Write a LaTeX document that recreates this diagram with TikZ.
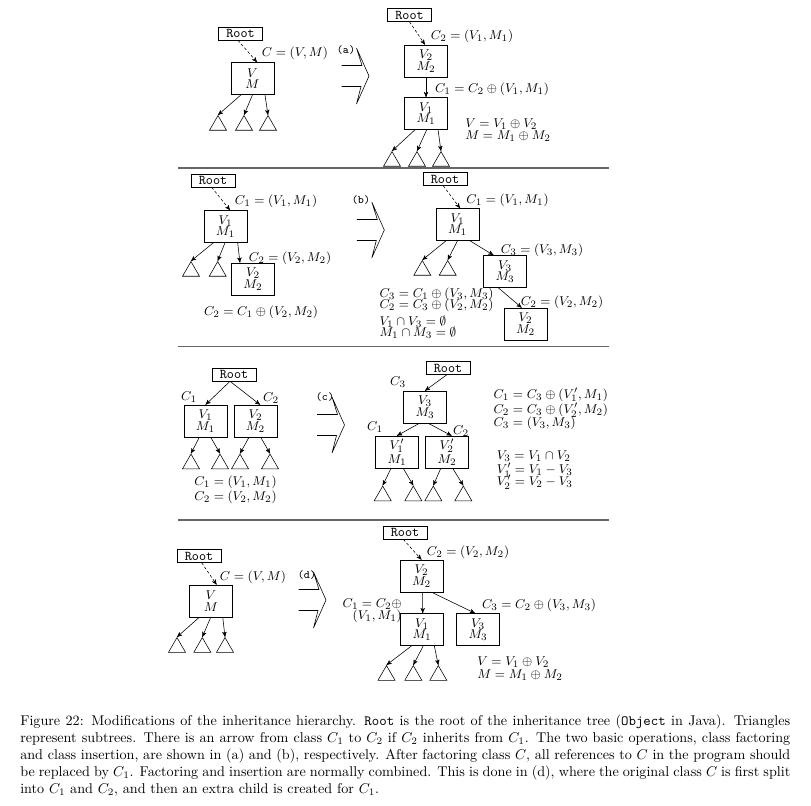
\documentclass[tikz,border=0pt]{standalone}
\usepackage{amsmath}
\usepackage{tikz}
\usetikzlibrary{arrows, shapes.geometric, positioning}
\tikzset{
-, % plain lines unless asked
>=stealth', % small arrow heads
class/.style={draw, thin, minimum width=30.4pt, minimum height=22.6pt, inner sep=0pt, align=center, font=\fontsize{9.5}{8}\selectfont}, % a class box V/M
root/.style={draw, thin, minimum width=31pt, minimum height=9.2pt, inner sep=0pt, font=\fontsize{9.5}{10}\selectfont\ttfamily}, % the Root box
subtree/.style={draw, thin, regular polygon, regular polygon sides=3, minimum size=13.85pt, inner sep=0pt, anchor=north}, % a subtree triangle
lbl/.style={inner sep=0pt, font=\fontsize{9.5}{11}\selectfont}, % math labels
tag/.style={inner sep=0pt, font=\footnotesize\ttfamily}, % (a), (b), ...
rootlink/.style={->, thin, dash pattern=on 2pt off 1.5pt}, % dashed link from Root
inh/.style={->, thin}, % inheritance arrow
sep/.style={line width=0.9pt, black!60}, % separator between rows
pics/fatarrow/.style={code={
  \draw[thin] (-27.5,-10.5) -- (-7,-10.5) -- (-12.5,-28) -- (0,0) -- (-12.5,28) -- (-8,10.5) -- (-27.5,10.5);
}}, % the big "becomes" arrow
}
\begin{document}
\begin{tikzpicture}[x=0.706pt, y=-0.706pt]
\useasboundingbox (0,0) rectangle (811,805);

% ---- (a) class factoring
\node[root] (aRoot) at (240.5,33.5) {Root};
\node[class] (aC) at (252.5,78.5) {$V$\\$M$};
\node[lbl] (aLbl) at (295,53) {$C=(V,M)$};
\node[subtree] (at1) at (218,115) {};
\node[subtree] (at2) at (244,115) {};
\node[subtree] (at3) at (268,115) {};
\draw[rootlink] ([xshift=-1.8pt]aRoot.south) -- ([xshift=3.2pt]aC.north);
\draw ([xshift=-8.1pt]aC.south) edge[inh] (at1.north)
  (aC.south) edge[inh] (at2.north)
  ([xshift=8.8pt]aC.south) edge[inh] (at3.north);

\node[tag] (aTag) at (346,50) {(a)};
\pic at (369,76) {fatarrow};

\node[root] (aRoot2) at (409.5,15) {Root};
\node[class] (aC2) at (426,61) {$V_2$\\$M_2$};
\node[lbl] (aLbl2) at (472,36) {$C_2=(V_1,M_1)$};
\node[class] (aC1) at (426,113.5) {$V_1$\\$M_1$};
\node[lbl] (aLbl1) at (492,89) {$C_1=C_2\oplus(V_1,M_1)$};
\node[lbl, anchor=west] (aEqV) at (465,124) {$V=V_1\oplus V_2$};
\node[lbl, anchor=west] (aEqM) at (465,136) {$M=M_1\oplus M_2$};
\node[subtree] (at4) at (392,151) {};
\node[subtree] (at5) at (417,151) {};
\node[subtree] (at6) at (441,151) {};
\draw[rootlink] (aRoot2.south) -- ([xshift=-0.7pt]aC2.north);
\draw[inh] (aC2) -- (aC1);
\draw ([xshift=-7.8pt]aC1.south) edge[inh] (at4.north)
  ([xshift=0.5pt]aC1.south) edge[inh] (at5.north)
  ([xshift=8.5pt]aC1.south) edge[inh] (at6.north);

\draw[sep] (178,168) -- (609,168);

% ---- (b) class insertion
\node[root] (bRoot) at (213,180.5) {Root};
\node[class] (bC1) at (225.5,226.5) {$V_1$\\$M_1$};
\node[lbl] (bLbl1) at (276,201) {$C_1=(V_1,M_1)$};
\node[class] (bC2) at (253,279) {$V_2$\\$M_2$};
\node[lbl] (bLbl2) at (290,258) {$C_2=(V_2,M_2)$};
\node[lbl] (bEq) at (261,312) {$C_2=C_1\oplus(V_2,M_2)$};
\node[subtree] (bt1) at (191,261) {};
\node[subtree] (bt2) at (217.7,261) {};
\draw[rootlink] ([xshift=-0.9pt]bRoot.south) -- ([xshift=3.2pt]bC1.north);
\draw ([xshift=-8.6pt]bC1.south) edge[inh] (bt1.north)
  ([xshift=-0.4pt]bC1.south) edge[inh] (bt2.north)
  ([xshift=8.6pt]bC1.south) edge[inh] ([xshift=-9.2pt]bC2.north);

\node[tag] (bTag) at (361,200) {(b)};
\pic at (384.3,230) {fatarrow};

\node[root] (bRoot2) at (445,179) {Root};
\node[class] (bC1n) at (457.5,224.5) {$V_1$\\$M_1$};
\node[lbl] (bLbl3) at (507.5,200) {$C_1=(V_1,M_1)$};
\node[class] (bC3) at (505,271.5) {$V_3$\\$M_3$};
\node[lbl] (bLbl4) at (542,250) {$C_3=(V_3,M_3)$};
\node[class] (bC2n) at (525.5,324) {$V_2$\\$M_2$};
\node[lbl] (bLbl5) at (562,302) {$C_2=(V_2,M_2)$};
\node[subtree] (bt3) at (422.3,260) {};
\node[subtree] (bt4) at (447.7,260) {};
\draw[rootlink] ([xshift=-1.2pt]bRoot2.south) -- ([xshift=1.8pt]bC1n.north);
\draw ([xshift=-8.1pt]bC1n.south) edge[inh] (bt3.north)
  (bC1n.south) edge[inh] (bt4.north)
  ([xshift=8.8pt]bC1n.south) edge[inh] ([xshift=-8.1pt]bC3.north)
  ([xshift=-4.7pt]bC3.south) edge[inh] ([xshift=-2.7pt]bC2n.north);
\node[lbl, anchor=west] (bEq1) at (379.3,294.5) {$C_3=C_1\oplus(V_3,M_3)$};
\node[lbl, anchor=west] (bEq2) at (379.3,305) {$C_2=C_3\oplus(V_2,M_2)$};
\node[lbl, anchor=west] (bEq3) at (379.3,321.5) {$V_1\cap V_3=\emptyset$};
\node[lbl, anchor=west] (bEq4) at (379.3,332.5) {$M_1\cap M_3=\emptyset$};

\draw[sep] (178,346.5) -- (609,346.5);

% ---- (c) common superclass
\node[root] (cRoot) at (234,374.5) {Root};
\node[class] (cC1) at (205.5,421) {$V_1$\\$M_1$};
\node[class] (cC2) at (255.5,421) {$V_2$\\$M_2$};
\node[lbl] (cN1) at (189,397) {$C_1$};
\node[lbl] (cN2) at (271,398) {$C_2$};
\node[subtree] (ct1) at (191,453.5) {};
\node[subtree] (ct2) at (220,453.5) {};
\node[subtree] (ct3) at (240,453.5) {};
\node[subtree] (ct4) at (270,453.5) {};
\draw ([xshift=-2.8pt]cRoot.south) edge[inh] (cC1.north)
  ([xshift=-2.8pt]cRoot.south) edge[inh] ([xshift=3.2pt]cC2.north)
  ([xshift=-4.4pt]cC1.south) edge[inh] (ct1.north)
  ([xshift=3.7pt]cC1.south) edge[inh] (ct2.north)
  ([xshift=-4.6pt]cC2.south) edge[inh] (ct3.north)
  ([xshift=3.7pt]cC2.south) edge[inh] (ct4.north);
\node[lbl] (cEq1) at (235.5,482) {$C_1=(V_1,M_1)$};
\node[lbl] (cEq2) at (235.5,497) {$C_2=(V_2,M_2)$};

\node[tag] (cTag) at (325,397) {(c)};
\pic at (344.5,425) {fatarrow};

\node[root] (cRoot2) at (448,368) {Root};
\node[class] (cC3) at (425,407) {$V_3$\\$M_3$};
\node[lbl] (cN3) at (398,382.5) {$C_3$};
\node[class] (cC1n) at (397,452) {$V_1'$\\$M_1$};
\node[class] (cC2n) at (447,452) {$V_2'$\\$M_2$};
\node[lbl] (cN4) at (375,427) {$C_1$};
\node[lbl] (cN5) at (461,431) {$C_2$};
\node[subtree] (ct5) at (382.7,485.5) {};
\node[subtree] (ct6) at (413.3,485.5) {};
\node[subtree] (ct7) at (433.3,485.5) {};
\node[subtree] (ct8) at (463.3,485.5) {};
\draw ([xshift=-0.9pt]cRoot2.south) edge[inh] (cC3.north)
  ([xshift=-4pt]cC3.south) edge[inh] (cC1n.north)
  ([xshift=2.3pt]cC3.south) edge[inh] ([xshift=3.3pt]cC2n.north)
  ([xshift=-4.2pt]cC1n.south) edge[inh] (ct5.north)
  ([xshift=4.4pt]cC1n.south) edge[inh] (ct6.north)
  ([xshift=-4.4pt]cC2n.south) edge[inh] (ct7.north)
  ([xshift=4pt]cC2n.south) edge[inh] (ct8.north);
\node[lbl, anchor=west] (cEq3) at (493.3,395) {$C_1=C_3\oplus(V_1',M_1)$};
\node[lbl, anchor=west] (cEq4) at (493.3,410) {$C_2=C_3\oplus(V_2',M_2)$};
\node[lbl, anchor=west] (cEq5) at (493.3,423.5) {$C_3=(V_3,M_3)$};
\node[lbl, anchor=west] (cEq6) at (496.5,456.5) {$V_3=V_1\cap V_2$};
\node[lbl, anchor=west] (cEq7) at (496.5,470) {$V_1'=V_1-V_3$};
\node[lbl, anchor=west] (cEq8) at (496.5,482) {$V_2'=V_2-V_3$};

\draw[sep] (178,520) -- (609,520);

% ---- (d) factoring and insertion combined
\node[root] (dRoot) at (199,556) {Root};
\node[class] (dC) at (211,601) {$V$\\$M$};
\node[lbl] (dLbl) at (253,577) {$C=(V,M)$};
\node[subtree] (dt1) at (177,637) {};
\node[subtree] (dt2) at (202.3,637) {};
\node[subtree] (dt3) at (225,637) {};
\draw[rootlink] ([xshift=1.9pt]dRoot.south) -- ([xshift=4pt]dC.north);
\draw ([xshift=-8.3pt]dC.south) edge[inh] (dt1.north)
  ([xshift=-0.2pt]dC.south) edge[inh] (dt2.north)
  ([xshift=8.3pt]dC.south) edge[inh] (dt3.north);

\node[tag] (dTag) at (307,575) {(d)};
\pic at (326,600) {fatarrow};

\node[root] (dRoot2) at (405,532.5) {Root};
\node[class] (dC2) at (421.5,576) {$V_2$\\$M_2$};
\node[lbl] (dLbl2) at (468,552.5) {$C_2=(V_2,M_2)$};
\node[class] (dC1) at (422,629.5) {$V_1$\\$M_1$};
\node[class] (dC3) at (478,629.5) {$V_3$\\$M_3$};
\node[lbl, anchor=east, align=right, font=\fontsize{9.5}{8.3}\selectfont] (dLbl1) at (402,611) {$C_1=C_2\oplus$\\$(V_1,M_1)$};
\node[lbl] (dLbl3) at (539,605) {$C_3=C_2\oplus(V_3,M_3)$};
\node[subtree] (dt4) at (386.5,665) {};
\node[subtree] (dt5) at (413.3,665) {};
\node[subtree] (dt6) at (438.3,665) {};
\draw[rootlink] ([xshift=-1.2pt]dRoot2.south) -- (dC2.north);
\draw ([xshift=0.8pt]dC2.south) edge[inh] ([xshift=0.5pt]dC1.north)
  ([xshift=7.2pt]dC2.south) edge[inh] ([xshift=-2.1pt]dC3.north)
  ([xshift=-7.3pt]dC1.south) edge[inh] (dt4.north)
  ([xshift=0.9pt]dC1.south) edge[inh] (dt5.north)
  ([xshift=8.7pt]dC1.south) edge[inh] (dt6.north);
\node[lbl, anchor=west] (dEqV) at (477,662) {$V=V_1\oplus V_2$};
\node[lbl, anchor=west] (dEqM) at (477,675) {$M=M_1\oplus M_2$};

% ---- caption
\node[anchor=north west, inner sep=0pt, text width=543.6pt, align=justify, font=\fontsize{10}{12}\selectfont] (caption) at (20,714.5)
  {Figure 22: Modifications of the inheritance hierarchy. \texttt{Root} is the root of the inheritance tree (\texttt{Object} in Java). Triangles\linebreak
  represent subtrees. There is an arrow from class $C_1$ to $C_2$ if $C_2$ inherits from $C_1$. The two basic operations, class factoring\linebreak
  and class insertion, are shown in (a) and (b), respectively. After factoring class $C$, all references to $C$ in the program should\linebreak
  be replaced by $C_1$. Factoring and insertion are normally combined. This is done in (d), where the original class $C$ is first split\linebreak
  into $C_1$ and $C_2$, and then an extra child is created for $C_1$.};
\end{tikzpicture}
\end{document}
